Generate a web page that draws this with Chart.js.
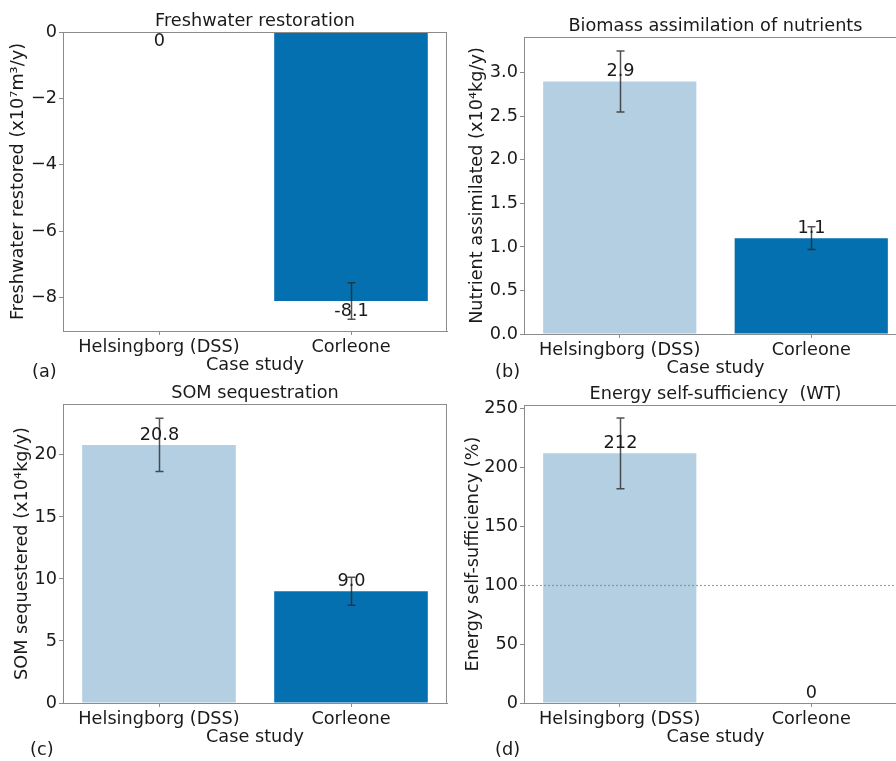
<!DOCTYPE html>
<html>
<head>
<meta charset="utf-8">
<script src="https://cdn.jsdelivr.net/npm/chart.js@4.4.1/dist/chart.umd.min.js"></script>
<style>
html, body { margin: 0; padding: 0; background: #fff; width: 896px; height: 761px; overflow: hidden; }
canvas { position: absolute; }
.tag { position: absolute; font: 17.7px 'DejaVu Sans', sans-serif; color: #1a1a1a; }
</style>
</head>
<body>
<canvas id="chartA" width="448" height="390" style="left:0;top:0"></canvas>
<canvas id="chartB" width="460" height="390" style="left:448px;top:0"></canvas>
<canvas id="chartC" width="448" height="381" style="left:0;top:380px"></canvas>
<canvas id="chartD" width="460" height="381" style="left:448px;top:380px"></canvas>
<div class="tag" style="left:32px;top:361px">(a)</div>
<div class="tag" style="left:495px;top:361px">(b)</div>
<div class="tag" style="left:30px;top:739px">(c)</div>
<div class="tag" style="left:495px;top:739px">(d)</div>
<script>
// data
const caseStudies = ['Helsingborg (DSS)', 'Corleone'];
const barColors = ['#b4cfe2', '#0570b0'];

const freshwaterValues = [0, -8.1];
const freshwaterErrors = [0, 0.55];
const freshwaterTicks = [0, -2, -4, -6, -8];

const nutrientValues = [2.9, 1.1];
const nutrientErrors = [0.35, 0.13];
const nutrientTicks = [0, 0.5, 1.0, 1.5, 2.0, 2.5, 3.0];

const somValues = [20.8, 9.0];
const somErrors = [2.15, 1.13];
const somTicks = [0, 5, 10, 15, 20];

const energyValues = [212, 0];
const energyErrors = [30, 0];
const energyTicks = [0, 50, 100, 150, 200, 250];
const energyTarget = 100;

const FONT = 'DejaVu Sans';
const FS = 17.7;
const LINE_H = FS * 1.2;
const AXIS_COLOR = '#8c8c8c';
const TEXT_COLOR = '#1a1a1a';

// error bars, value labels, reference line and the full axes frame
function extras(values, errors, decimals, labelBelow, refLine) {
    return {
        id: 'extras',
        afterDatasetsDraw(chart) {
            const ctx = chart.ctx;
            const a = chart.chartArea;
            const y = chart.scales.y;
            const meta = chart.getDatasetMeta(0);
            ctx.save();

            if (refLine !== undefined) {
                const ry = Math.round(y.getPixelForValue(refLine)) + 0.5;
                ctx.strokeStyle = 'rgba(70,170,70,0.75)';
                ctx.lineWidth = 1.2;
                ctx.setLineDash([2, 2]);
                ctx.beginPath();
                ctx.moveTo(a.left, ry);
                ctx.lineTo(a.right, ry);
                ctx.stroke();
                ctx.setLineDash([]);
            }

            values.forEach((v, i) => {
                const cx = Math.round(meta.data[i].x) + 0.5;
                const e = errors[i];
                if (e > 0) {
                    const y1 = y.getPixelForValue(v + e);
                    const y2 = y.getPixelForValue(v - e);
                    ctx.strokeStyle = 'rgba(40,40,40,0.8)';
                    ctx.lineWidth = 1.5;
                    ctx.beginPath();
                    ctx.moveTo(cx, y1);
                    ctx.lineTo(cx, y2);
                    ctx.moveTo(cx - 4, y1);
                    ctx.lineTo(cx + 4, y1);
                    ctx.moveTo(cx - 4, y2);
                    ctx.lineTo(cx + 4, y2);
                    ctx.stroke();
                }
                const label = v === 0 ? '0' : v.toFixed(decimals);
                ctx.fillStyle = TEXT_COLOR;
                ctx.font = FS + 'px "' + FONT + '"';
                ctx.textAlign = 'center';
                ctx.textBaseline = labelBelow ? 'top' : 'bottom';
                ctx.fillText(label, cx, y.getPixelForValue(v) + (labelBelow ? 1 : -1));
            });

            ctx.strokeStyle = AXIS_COLOR;
            ctx.lineWidth = 1;
            ctx.strokeRect(Math.round(a.left) + 0.5, Math.round(a.top) + 0.5,
                Math.round(a.right - a.left) - 1, Math.round(a.bottom - a.top));
            ctx.restore();
        }
    };
}

function makePanel(id, p) {
    const W = p.width, H = p.height;
    const XH = 45;
    return new Chart(document.getElementById(id), {
        type: 'bar',
        data: {
            labels: caseStudies,
            datasets: [{
                data: p.values,
                backgroundColor: barColors,
                borderWidth: 0,
                categoryPercentage: 0.8,
                barPercentage: 1.0
            }]
        },
        options: {
            responsive: false,
            animation: false,
            devicePixelRatio: 1,
            layout: {
                padding: { left: 0, right: W - p.area.r, top: p.area.t - LINE_H, bottom: H - p.area.b - XH }
            },
            plugins: {
                legend: { display: false },
                tooltip: { enabled: false },
                title: {
                    display: true,
                    text: p.title,
                    fullSize: false,
                    color: TEXT_COLOR,
                    font: { family: FONT, size: FS, weight: 'normal' },
                    padding: { top: 0, bottom: 0 }
                }
            },
            scales: {
                x: {
                    offset: true,
                    grid: { display: true, drawOnChartArea: false, drawTicks: true, tickLength: 4, offset: false, color: AXIS_COLOR },
                    border: { display: true, color: AXIS_COLOR },
                    ticks: { color: TEXT_COLOR, font: { family: FONT, size: FS }, padding: 2, maxRotation: 0, autoSkip: false },
                    title: { display: true, text: 'Case study', color: TEXT_COLOR, font: { family: FONT, size: FS }, padding: { top: 0, bottom: 0 } },
                    afterFit(s) { s.height = XH; }
                },
                y: {
                    min: p.min,
                    max: p.max,
                    grid: { display: true, drawOnChartArea: false, drawTicks: true, tickLength: 4, color: AXIS_COLOR },
                    border: { display: true, color: AXIS_COLOR },
                    afterBuildTicks(s) { s.ticks = p.ticks.map(v => ({ value: v })); },
                    ticks: {
                        color: TEXT_COLOR,
                        font: { family: FONT, size: FS },
                        padding: 2,
                        callback: v => (p.tickDecimals ? v.toFixed(p.tickDecimals) : String(v)).replace('-', '\u2212')
                    },
                    title: { display: true, text: p.yTitle, color: TEXT_COLOR, font: { family: FONT, size: FS }, padding: { top: p.yTitleOffset, bottom: 0 } },
                    afterFit(s) { s.width = p.area.l; }
                }
            }
        },
        plugins: [extras(p.values, p.errors, p.decimals, p.labelBelow, p.refLine)]
    });
}

makePanel('chartA', {
    title: 'Freshwater restoration',
    yTitle: 'Freshwater restored (x10\u2077m\u00b3/y)',
    values: freshwaterValues, errors: freshwaterErrors, ticks: freshwaterTicks,
    min: -9, max: 0, decimals: 1, labelBelow: true,
    width: 448, height: 390, area: { l: 63, r: 447, t: 32, b: 331 }, yTitleOffset: 8
});

makePanel('chartB', {
    title: 'Biomass assimilation of nutrients',
    yTitle: 'Nutrient assimilated (x10\u2074kg/y)',
    values: nutrientValues, errors: nutrientErrors, ticks: nutrientTicks, tickDecimals: 1,
    min: 0, max: 3.41, decimals: 1, labelBelow: false,
    width: 460, height: 390, area: { l: 76, r: 459, t: 37, b: 334 }, yTitleOffset: 19
});

makePanel('chartC', {
    title: 'SOM sequestration',
    yTitle: 'SOM sequestered (x10\u2074kg/y)',
    values: somValues, errors: somErrors, ticks: somTicks,
    min: 0, max: 24.1, decimals: 1, labelBelow: false,
    width: 448, height: 381, area: { l: 63, r: 447, t: 24, b: 323 }, yTitleOffset: 12
});

makePanel('chartD', {
    title: 'Energy self-sufficiency  (WT)',
    yTitle: 'Energy self-sufficiency (%)',
    values: energyValues, errors: energyErrors, ticks: energyTicks,
    min: 0, max: 253, decimals: 0, labelBelow: false, refLine: energyTarget,
    width: 460, height: 381, area: { l: 76, r: 459, t: 25, b: 323 }, yTitleOffset: 15
});
</script>
</body>
</html>
